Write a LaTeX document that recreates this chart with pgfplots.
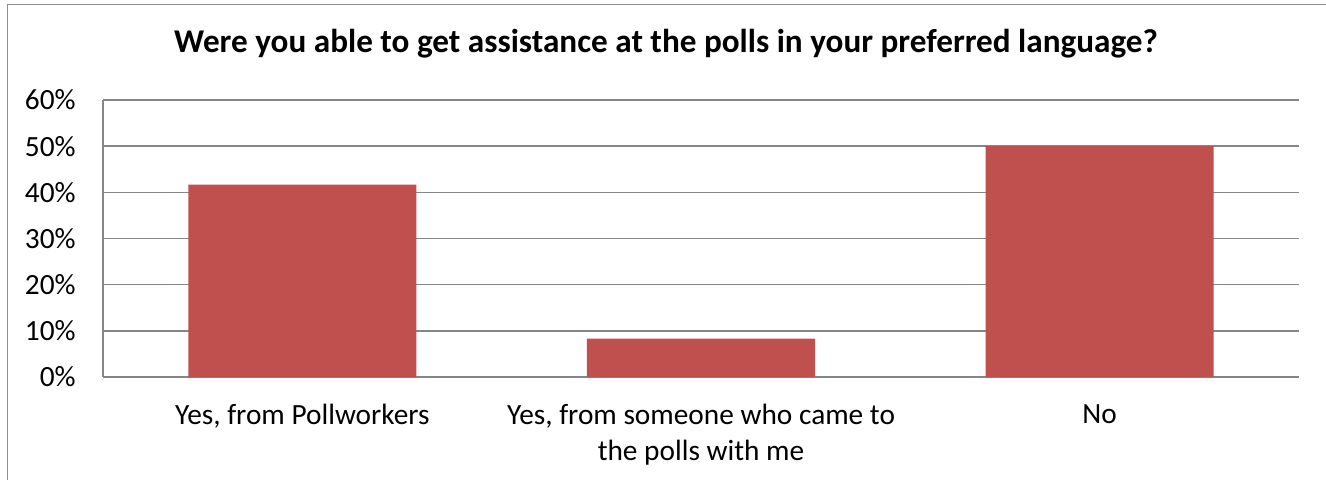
\documentclass[border=0pt]{standalone}
\usepackage{pgfplots}
\pgfplotsset{compat=1.18}
\usepackage{fontspec}
\setmainfont{Carlito}
\definecolor{barred}{HTML}{C0504D}
\definecolor{gridgrey}{HTML}{868686}
\definecolor{framegrey}{HTML}{8C8C8C}
\begin{document}
\begin{tikzpicture}
\path[use as bounding box] (-77.25pt,-76.5pt) rectangle (917.25pt,282.75pt);
\draw[framegrey, line width=1.1pt] (-71.6pt,-80pt) -- (-71.6pt,279.4pt) -- (920pt,279.4pt);
\begin{axis}[
  at={(0,0)}, anchor=south west,
  scale only axis,
  width=897pt, height=207.75pt,
  xmin=-0.5, xmax=2.5,
  ymin=0, ymax=60,
  enlargelimits=false,
  axis lines=left,
  axis line style={-, draw=gridgrey, line width=1.1pt},
  ymajorgrids,
  grid style={draw=gridgrey, line width=1.1pt},
  major tick length=0pt,
  xtick={0,1,2},
  xticklabels={{Yes, from Pollworkers},{Yes, from someone who came to\\the polls with me},{No}},
  ytick={0,10,20,30,40,50,60},
  yticklabels={0\%,10\%,20\%,30\%,40\%,50\%,60\%},
  tick label style={font=\fontsize{22}{27}\selectfont},
  xticklabel style={align=center, anchor=north, yshift=-17pt},
  yticklabel style={anchor=east, xshift=-17pt},
  ybar, bar width=0.572,
  axis on top=false,
]
\addplot[fill=barred, draw=none] coordinates {(0,41.67) (1,8.33) (2,50)};
\end{axis}
\node[anchor=base, font=\fontsize{24.9}{29}\selectfont\bfseries] at (422.25pt,243pt) {Were you able to get assistance at the polls in your preferred language?};
\end{tikzpicture}
\end{document}
